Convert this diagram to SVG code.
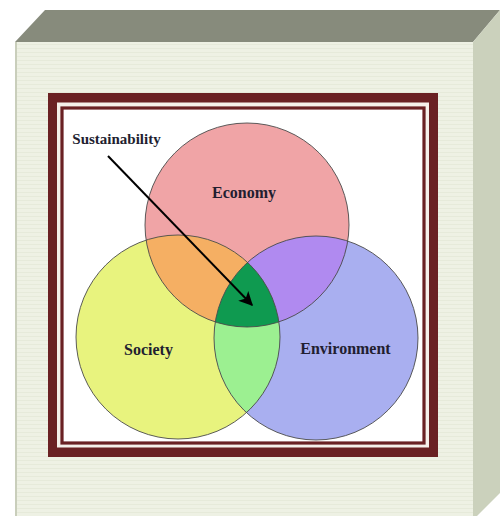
<svg xmlns="http://www.w3.org/2000/svg" width="500" height="516" viewBox="0 0 500 516">
<style>
.lbl{font-family:"Liberation Serif","Times New Roman",serif;font-weight:bold;fill:#221e30;text-anchor:middle}
.ring{fill:none;stroke:#4a4a4a;stroke-width:0.9}
</style>
<defs>
<pattern id="stripes" width="6" height="4" patternUnits="userSpaceOnUse">
<rect width="6" height="4" fill="#eef1e4"/>
<rect y="0" width="6" height="1" fill="#e6eada"/>
</pattern>
<clipPath id="cE"><circle cx="247" cy="225" r="102"/></clipPath>
<clipPath id="cS"><circle cx="178" cy="337" r="102"/></clipPath>
<clipPath id="cV"><circle cx="316" cy="338" r="102"/></clipPath>
<marker id="ah" viewBox="0 0 10 10" refX="9" refY="5" markerWidth="7.5" markerHeight="7" orient="auto" markerUnits="strokeWidth">
<path d="M0,0 L10,5 L0,10 L2.5,5 Z" fill="#000"/>
</marker>
</defs>
<rect width="500" height="516" fill="#ffffff"/>
<g id="box">
<polygon points="15,42 45,10 500,10 473,42" fill="#878b7c"/>
<polygon points="473,42 500,10 500,493 473,520" fill="#cbd1bc"/>
<rect x="15" y="42" width="458" height="480" fill="url(#stripes)"/>
<line x1="16" y1="42" x2="16" y2="516" stroke="#c9cebb" stroke-width="2"/>
</g>
<g id="frame">
<rect x="48" y="93" width="390" height="364" fill="#6a2123"/>
<rect x="57" y="102.5" width="372" height="345" fill="#f5f0ea"/>
<rect x="62" y="108" width="362" height="335" fill="#ffffff" stroke="#6a2123" stroke-width="3.2"/>
</g>
<g id="economy">
<circle cx="247" cy="225" r="102" fill="#f0a4a6"/>
</g>
<g id="society">
<circle cx="178" cy="337" r="102" fill="#e8f37e"/>
</g>
<g id="environment">
<circle cx="316" cy="338" r="102" fill="#a9aff0"/>
</g>
<g id="overlaps">
<g clip-path="url(#cE)"><circle cx="178" cy="337" r="102" fill="#f5af63"/></g>
<g clip-path="url(#cE)"><circle cx="316" cy="338" r="102" fill="#b08af0"/></g>
<g clip-path="url(#cS)"><circle cx="316" cy="338" r="102" fill="#9cf091"/></g>
<g clip-path="url(#cS)"><g clip-path="url(#cV)"><circle cx="247" cy="225" r="102" fill="#0f9a50"/></g></g>
</g>
<g id="outlines">
<circle class="ring" cx="247" cy="225" r="102"/>
<circle class="ring" cx="178" cy="337" r="102"/>
<circle class="ring" cx="316" cy="338" r="102"/>
</g>
<g id="labels">
<text class="lbl" x="244" y="198" font-size="16">Economy</text>
<text class="lbl" x="148.5" y="355" font-size="16">Society</text>
<text class="lbl" x="345.5" y="354" font-size="16">Environment</text>
<text class="lbl" x="116.5" y="144" font-size="15">Sustainability</text>
</g>
<g id="connectors">
<line x1="108" y1="156" x2="252" y2="305" stroke="#000" stroke-width="2" marker-end="url(#ah)"/>
</g>
</svg>
